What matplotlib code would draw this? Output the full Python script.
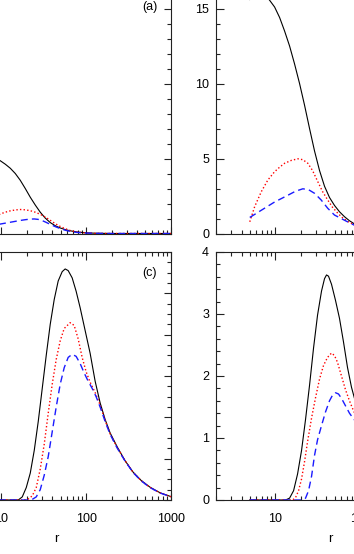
import matplotlib
matplotlib.use("Agg")
import matplotlib.pyplot as plt
from matplotlib.ticker import LogLocator, NullFormatter, FixedLocator, MultipleLocator

plt.rcParams['font.family'] = ['Liberation Sans', 'DejaVu Sans']

# ---------------- data ----------------
# panel (a)
r_a = [7.4, 8.5, 9.73, 11.14, 12.76, 14.61, 16.72, 19.16, 21.94, 25.12, 28.77, 32.93, 37.72, 43.18,
       49.44, 56.6, 64.8, 78.3, 97.3, 127.6, 200, 500, 1000]
black_a = [5.25, 5.05, 4.85, 4.62, 4.35, 4.0, 3.55, 3.0, 2.42, 1.9, 1.42, 1.03, 0.73, 0.52,
           0.37, 0.26, 0.18, 0.1, 0.05, 0.02, 0.0, 0.0, 0.0]
red_a = [1.0, 1.15, 1.3, 1.42, 1.51, 1.57, 1.6, 1.58, 1.52, 1.42, 1.28, 1.1, 0.88, 0.66,
         0.47, 0.32, 0.2, 0.1, 0.04, 0.01, 0.0, 0.0, 0.0]
r_a_blue = [7.4, 8.5, 9.73, 11.14, 12.76, 14.61, 16.72, 19.16, 21.94, 24.45, 27.25, 30.37, 33.85,
            37.72, 43.18, 49.44, 56.6, 64.8, 78.3, 97.3, 127.6, 200, 500, 1000]
blue_a = [0.47, 0.55, 0.63, 0.69, 0.75, 0.81, 0.87, 0.92, 0.96, 0.97, 0.94, 0.86, 0.74,
          0.61, 0.46, 0.33, 0.22, 0.14, 0.07, 0.03, 0.01, 0.0, 0.0, 0.0]

# panel (b)
r_b_black = [5, 5.71, 6.54, 7.48, 8.57, 9.81, 11.24, 12.86, 14.73, 16.87, 19.31, 22.12, 25.32,
             29.0, 33.2, 38.02, 43.53, 49.85, 57.08, 65.36, 74.84, 85.7, 112.4, 200]
black_b = [15.6, 15.95, 16.1, 15.95, 15.55, 15.1, 14.4, 13.5, 12.5, 11.3, 10.0, 8.55, 7.0,
           5.5, 4.2, 3.15, 2.4, 1.87, 1.45, 1.12, 0.85, 0.64, 0.36, 0.06]
r_b_red = [5, 5.71, 6.84, 8.18, 9.81, 11.24, 12.86, 15.55, 18.5, 21.12, 24.18, 27.47, 31.71,
           36.01, 41.5, 47.22, 54.52, 61.9, 71.45, 85.7, 112.4, 200]
red_b = [0.78, 1.79, 2.79, 3.57, 4.12, 4.42, 4.68, 4.88, 4.98, 4.92, 4.68, 4.2, 3.45,
         2.8, 2.23, 1.75, 1.35, 1.05, 0.8, 0.58, 0.35, 0.06]
r_b_blue = [5, 6.84, 9.81, 14.06, 17.34, 21.12, 24.65, 29.0, 34.77, 41.5, 49.85, 59.7, 67.14,
            85.7, 112.4, 200]
blue_b = [1.07, 1.55, 2.1, 2.55, 2.82, 2.98, 2.92, 2.68, 2.23, 1.68, 1.23, 1.0, 0.85,
          0.55, 0.35, 0.06]

# panel (c)
r_c_black = [5, 15.85, 17.66, 19.68, 21.94, 24.45, 27.25, 30.37, 33.85, 37.72, 42.03, 46.84,
             52.2, 56.6, 61.4, 68.4, 76.2, 85.0, 97.3, 111.4, 127.6, 146.1, 167.3, 191.5,
             231.6, 287.7, 357.3, 443.7, 566, 742.5, 973, 1000]
black_c = [0, 0, 0.015, 0.06, 0.13, 0.24, 0.38, 0.54, 0.7, 0.85, 0.97, 1.06,
           1.105, 1.118, 1.11, 1.075, 1.01, 0.93, 0.82, 0.71, 0.575, 0.47, 0.39, 0.325,
           0.258, 0.19, 0.135, 0.095, 0.062, 0.035, 0.018, 0.016]
r_c_red = [5, 18.65, 20.78, 23.16, 25.81, 28.77, 32.06, 35.73, 39.81, 44.37, 49.44, 55.1,
           64.8, 72.2, 80.5, 89.7, 100, 111.4, 127.6, 146.1, 167.3, 191.5, 231.6, 287.7,
           357.3, 443.7, 566, 742.5, 973, 1000]
red_c = [0, 0, 0.005, 0.02, 0.06, 0.15, 0.27, 0.42, 0.56, 0.68, 0.77, 0.83,
         0.858, 0.845, 0.78, 0.69, 0.62, 0.57, 0.52, 0.46, 0.385, 0.32, 0.255, 0.19,
         0.134, 0.094, 0.061, 0.034, 0.017, 0.016]
r_c_blue = [5, 20.78, 23.16, 25.81, 28.77, 32.06, 35.73, 39.81, 44.37, 49.44, 55.1, 61.4,
            68.4, 76.2, 85.0, 94.7, 105.6, 117.7, 131.1, 146.1, 167.3, 191.5, 231.6, 287.7,
            357.3, 443.7, 566, 742.5, 973, 1000]
blue_c = [0, 0, 0.003, 0.015, 0.05, 0.12, 0.21, 0.33, 0.45, 0.56, 0.64, 0.69,
          0.705, 0.695, 0.66, 0.615, 0.575, 0.54, 0.5, 0.45, 0.38, 0.318, 0.252, 0.188,
          0.133, 0.093, 0.06, 0.034, 0.017, 0.016]

# panel (d)
r_d_black = [5, 13.22, 14.73, 16.42, 18.30, 20.39, 22.72, 25.32, 28.22, 31.45, 35.05, 38.02,
             40.13, 42.36, 45.96, 51.22, 57.08, 63.62, 70.90, 79.01, 88.06, 103.6]
black_d = [0, 0, 0.03, 0.15, 0.42, 0.8, 1.3, 1.85, 2.45, 2.98, 3.37, 3.57,
           3.63, 3.61, 3.48, 3.22, 2.93, 2.55, 2.14, 1.82, 1.58, 1.3]
r_d_red = [5, 15.98, 17.34, 18.80, 20.39, 22.12, 23.99, 26.73, 29.80, 33.20, 37.00, 41.24,
           45.96, 49.85, 54.08, 60.26, 67.14, 74.84, 83.42, 98.1]
red_d = [0, 0, 0.04, 0.15, 0.34, 0.62, 0.94, 1.32, 1.65, 1.95, 2.17, 2.3,
         2.37, 2.33, 2.22, 2.0, 1.78, 1.6, 1.44, 1.25]
r_d_blue = [5, 20.95, 22.72, 24.65, 26.73, 29.00, 31.45, 35.05, 39.06, 43.53, 47.22, 51.22,
            55.56, 60.26, 67.14, 74.84, 83.42, 98.1]
blue_d = [0, 0, 0.03, 0.15, 0.38, 0.72, 0.97, 1.2, 1.42, 1.6, 1.69, 1.73,
          1.71, 1.64, 1.52, 1.4, 1.31, 1.2]

# only the panel labels that fall inside the visible crop
panel_labels = {'a': '(a)', 'c': '(c)'}
x_label = 'r'

# ---------------- figure ----------------
W, H = 354, 554
fig = plt.figure(figsize=(W / 100, H / 100), dpi=100)

def frac_rect(x0, y_top, w, h):
    return [x0 / W, (H - y_top - h) / H, w / W, h / H]

axw, axh = 229, 248
ax_a = fig.add_axes(frac_rect(-58, -14.5, axw, axh))
ax_b = fig.add_axes(frac_rect(216, -14.5, axw, axh))
ax_c = fig.add_axes(frac_rect(-58, 252, axw, axh))
ax_d = fig.add_axes(frac_rect(216, 252, axw, axh))

black_kw = dict(color='black', lw=0.8, linestyle='-')
red_kw = dict(color='#ff0000', lw=1.0, linestyle=(0, (1, 1.6)))
blue_kw = dict(color='#1a1aff', lw=1.0, linestyle=(0, (5, 3)))

ax_a.plot(r_a, black_a, **black_kw)
ax_a.plot(r_a, red_a, **red_kw)
ax_a.plot(r_a_blue, blue_a, **blue_kw)

ax_b.plot(r_b_black, black_b, **black_kw)
ax_b.plot(r_b_red, red_b, **red_kw)
ax_b.plot(r_b_blue, blue_b, **blue_kw)

ax_c.plot(r_c_black, black_c, **black_kw)
ax_c.plot(r_c_red, red_c, **red_kw)
ax_c.plot(r_c_blue, blue_c, **blue_kw)

ax_d.plot(r_d_black, black_d, **black_kw)
ax_d.plot(r_d_red, red_d, **red_kw)
ax_d.plot(r_d_blue, blue_d, **blue_kw)

spine_color = '#222222'
for ax in (ax_a, ax_b, ax_c, ax_d):
    ax.set_xscale('log')
    ax.set_xlim(2, 1000)
    ax.xaxis.set_major_locator(FixedLocator([10, 100, 1000]))
    ax.xaxis.set_minor_locator(LogLocator(base=10, subs=[2, 3, 4, 5, 6, 7, 8, 9], numticks=20))
    ax.xaxis.set_minor_formatter(NullFormatter())
    ax.tick_params(which='both', direction='in', top=True, right=True, colors=spine_color,
                   labelcolor='black', labelsize=9, width=0.8)
    ax.tick_params(which='major', length=5.4, pad=5)
    ax.tick_params(which='minor', length=2.7)
    ax.tick_params(axis='x', which='major', pad=9)
    for s in ax.spines.values():
        s.set_color(spine_color)
        s.set_linewidth(0.8)

for ax, key in ((ax_a, 'a'), (ax_c, 'c')):
    ax.text(0.906, 0.914, panel_labels[key], transform=ax.transAxes,
            ha='center', va='center', fontsize=9)

# left-hand y tick labels lie outside the visible crop of the original figure
for ax in (ax_a, ax_c):
    ax.tick_params(axis='y', labelleft=False)

for ax in (ax_a, ax_b):
    ax.set_ylim(0, 248 / 15)
    ax.yaxis.set_major_locator(MultipleLocator(5))
    ax.yaxis.set_minor_locator(MultipleLocator(1))
    ax.tick_params(axis='x', labelbottom=False)

ax_c.set_ylim(0, 1.2)
ax_c.yaxis.set_major_locator(MultipleLocator(0.2))
ax_c.yaxis.set_minor_locator(MultipleLocator(0.05))

ax_d.set_ylim(0, 4)
ax_d.yaxis.set_major_locator(MultipleLocator(1))
ax_d.yaxis.set_minor_locator(MultipleLocator(0.2))

for ax in (ax_c, ax_d):
    ax.xaxis.set_major_formatter(plt.FuncFormatter(lambda v, p: f"{int(round(v))}"))
    ax.set_xlabel(x_label, fontsize=9.5, labelpad=6)

fig.savefig('out.png', dpi=100)
